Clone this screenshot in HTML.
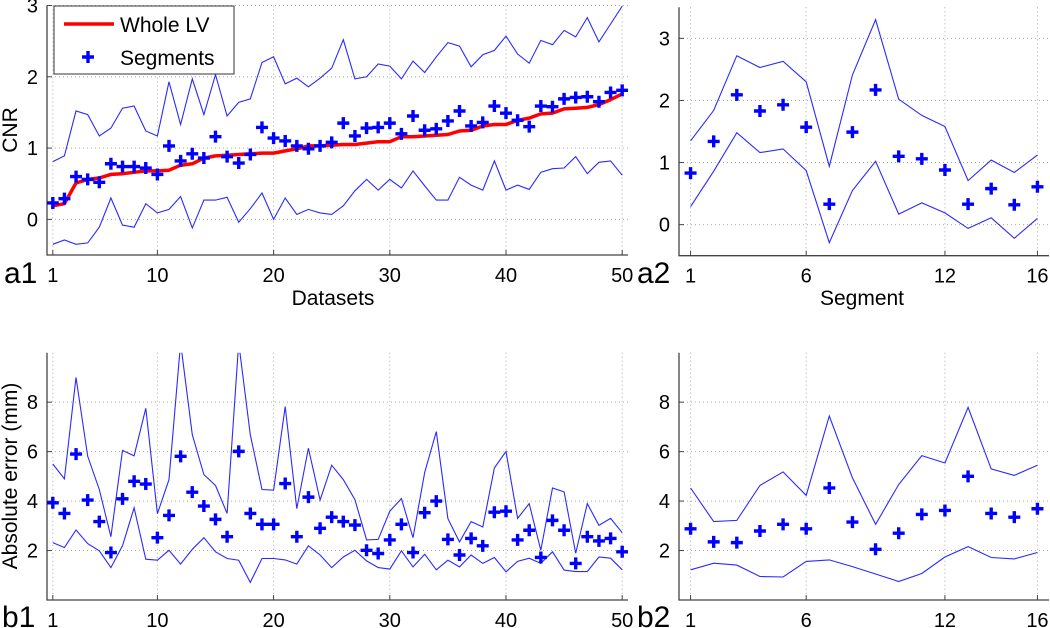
<!DOCTYPE html>
<html><head><meta charset="utf-8">
<style>
html,body{margin:0;padding:0;background:#fff;}
svg{display:block;font-family:"Liberation Sans",sans-serif;}
</style></head>
<body>
<svg id="fig" width="1050" height="628" viewBox="0 0 1050 628" xmlns="http://www.w3.org/2000/svg"></svg>
<script>
// ---- Data: panel a1 (CNR per dataset)
const a1Upper=[0.81,0.89,1.52,1.47,1.17,1.28,1.56,1.59,1.24,1.17,1.93,1.33,1.97,1.47,2.03,1.45,1.64,1.69,2.2,2.28,1.9,1.98,1.86,1.98,2.12,2.52,1.97,2.0,2.18,2.15,1.97,2.22,2.06,2.28,2.48,2.43,2.14,2.31,2.37,2.57,2.32,2.19,2.51,2.45,2.65,2.56,2.83,2.49,2.74,2.99];
const a1Lower=[-0.35,-0.29,-0.35,-0.33,-0.11,0.30,-0.08,-0.11,0.22,0.09,0.14,0.32,-0.12,0.27,0.27,0.31,-0.04,0.15,0.37,0.0,0.30,0.07,0.14,0.09,0.07,0.19,0.40,0.56,0.41,0.56,0.44,0.68,0.47,0.27,0.27,0.59,0.48,0.41,0.82,0.41,0.48,0.42,0.66,0.71,0.72,0.88,0.64,0.80,0.82,0.62];
const a1Seg=[0.23,0.29,0.60,0.56,0.52,0.78,0.74,0.74,0.72,0.63,1.03,0.82,0.92,0.86,1.16,0.88,0.79,0.91,1.29,1.14,1.10,1.03,0.99,1.03,1.08,1.35,1.17,1.28,1.29,1.35,1.20,1.45,1.25,1.27,1.38,1.52,1.31,1.36,1.59,1.49,1.39,1.30,1.59,1.58,1.69,1.71,1.72,1.65,1.78,1.81];
const a1Whole=[0.19,0.22,0.51,0.56,0.58,0.63,0.64,0.66,0.68,0.68,0.69,0.76,0.78,0.86,0.89,0.90,0.91,0.92,0.93,0.93,0.96,0.99,1.03,1.03,1.04,1.05,1.05,1.07,1.09,1.09,1.16,1.16,1.17,1.18,1.19,1.24,1.25,1.31,1.33,1.33,1.39,1.42,1.48,1.49,1.55,1.56,1.57,1.61,1.68,1.76];
// ---- panel a2 (CNR per segment)
const a2Upper=[1.35,1.84,2.72,2.53,2.63,2.30,0.94,2.41,3.30,2.02,1.76,1.58,0.71,1.04,0.84,1.12];
const a2Lower=[0.29,0.86,1.48,1.16,1.22,0.87,-0.29,0.55,1.02,0.17,0.35,0.19,-0.06,0.11,-0.22,0.10];
const a2Seg=[0.83,1.34,2.09,1.83,1.93,1.57,0.33,1.49,2.17,1.10,1.06,0.88,0.33,0.58,0.32,0.61];
// ---- panel b1 (absolute error per dataset)
const b1Upper=[5.50,4.90,9.0,5.81,4.47,2.56,6.05,5.83,7.75,3.49,4.87,10.4,6.68,5.07,4.63,3.50,10.4,6.68,4.47,4.44,7.82,3.69,6.14,4.04,5.45,4.87,4.06,2.43,2.45,3.59,4.10,2.52,5.16,6.81,3.29,2.35,3.17,2.95,5.34,6.01,3.30,3.90,2.01,4.53,4.37,1.89,3.90,3.02,3.30,2.72];
const b1Lower=[2.32,2.12,2.83,2.28,1.99,1.31,2.19,3.73,1.65,1.61,2.01,1.45,2.05,2.52,1.95,1.68,1.61,0.71,1.68,1.68,1.62,1.45,2.19,1.82,1.31,1.74,2.01,1.58,1.31,1.25,1.99,1.34,1.85,1.22,1.61,1.34,1.82,1.48,1.72,1.14,1.56,1.69,1.48,1.95,1.21,1.15,1.15,1.74,1.69,1.22];
const b1Seg=[3.93,3.50,5.90,4.04,3.17,1.92,4.09,4.80,4.69,2.52,3.42,5.81,4.36,3.80,3.26,2.56,6.01,3.50,3.06,3.06,4.71,2.56,4.16,2.90,3.35,3.17,3.03,2.01,1.88,2.43,3.06,1.92,3.53,4.00,2.45,1.82,2.49,2.19,3.55,3.59,2.43,2.82,1.72,3.22,2.82,1.48,2.56,2.39,2.49,1.95];
// ---- panel b2 (absolute error per segment)
const b2Upper=[4.53,3.17,3.22,4.63,5.18,4.23,7.44,4.94,3.06,4.67,5.84,5.54,7.79,5.30,5.04,5.45];
const b2Lower=[1.22,1.49,1.41,0.95,0.93,1.56,1.62,1.35,1.05,0.75,1.07,1.74,2.16,1.72,1.66,1.92];
const b2Seg=[2.88,2.35,2.32,2.79,3.06,2.88,4.53,3.15,2.05,2.70,3.46,3.62,5.00,3.50,3.35,3.69];
// ---- ticks
const xTicksDatasets=[1,10,20,30,40,50];
const xTicksSegments=[1,6,12,16];
const yTicksCNR=[0,1,2,3];
const yTicksErr=[2,4,6,8];

const NS="http://www.w3.org/2000/svg";
const svg=document.getElementById('fig');
function mk(tag,attrs,parent){const e=document.createElementNS(NS,tag);for(const k in attrs)e.setAttribute(k,attrs[k]);(parent||svg).appendChild(e);return e;}

function panel(id,box,xlim,ylim,xt,yt,upper,lower,seg,whole){
  const g=mk('g',{});
  
  
  const sx=v=>box.x0+(v-xlim[0])/(xlim[1]-xlim[0])*(box.x1-box.x0);
  const sy=v=>box.y1-(v-ylim[0])/(ylim[1]-ylim[0])*(box.y1-box.y0);
  const cid='clip-'+id;
  const cp=mk('clipPath',{id:cid},g);
  mk('rect',{x:box.x0,y:box.y0,width:box.x1-box.x0,height:box.y1-box.y0},cp);
  // grid
  const grid=mk('g',{stroke:'#aaa','stroke-width':1,'stroke-dasharray':'1,3'},g);
  
  
  xt.forEach(t=>{mk('line',{x1:sx(t),x2:sx(t),y1:box.y0,y2:box.y1},grid);});
  yt.forEach(t=>{mk('line',{x1:box.x0,x2:box.x1,y1:sy(t),y2:sy(t)},grid);});
  // axes
  const ax=mk('path',{d:`M${box.x0},${box.y0}V${box.y1}H${box.x1}`,fill:'none',stroke:'#444','stroke-width':1.3},g);
  
  
  xt.forEach(t=>{
    mk('line',{x1:sx(t),x2:sx(t),y1:box.y1,y2:box.y1-5,stroke:'#444'},g);
    const tx=mk('text',{x:sx(t),y:box.y1+27,'text-anchor':'middle','font-size':20,fill:'#000'},g);
    tx.textContent=t;
    
    
  });
  yt.forEach(t=>{
    mk('line',{x1:box.x0,x2:box.x0+5,y1:sy(t),y2:sy(t),stroke:'#444'},g);
    const tx=mk('text',{x:box.x0-9,y:sy(t)+7,'text-anchor':'end','font-size':20,fill:'#000'},g);
    tx.textContent=t;
    
    
  });
  const data=mk('g',{'clip-path':`url(#${cid})`},g);
  const pts=arr=>arr.map((v,i)=>sx(i+1).toFixed(1)+','+sy(v).toFixed(1)).join(' ');
  const up=mk('polyline',{points:pts(upper),fill:'none',stroke:'#2a2aff','stroke-width':1.1},data);
  
  
  const lo=mk('polyline',{points:pts(lower),fill:'none',stroke:'#2a2aff','stroke-width':1.1},data);
  
  
  if(whole){
    const w=mk('polyline',{points:pts(whole),fill:'none',stroke:'#ff0000','stroke-width':3.5,'stroke-linejoin':'round'},data);
    
    
  }
  seg.forEach((v,i)=>{
    const x=sx(i+1),y=sy(v);
    const p=mk('path',{d:`M${x-6},${y}H${x+6}M${x},${y-6}V${y+6}`,stroke:'#0000ff','stroke-width':3.4},data);
    
    
  });
}

panel('a1',{x0:47,x1:628,y0:5.5,y1:255},[0.5,50.5],[-0.5,3],xTicksDatasets,yTicksCNR,a1Upper,a1Lower,a1Seg,a1Whole);
panel('a2',{x0:679,x1:1049,y0:7.3,y1:255.7},[0.5,16.5],[-0.5,3.5],xTicksSegments,yTicksCNR,a2Upper,a2Lower,a2Seg,null);
panel('b1',{x0:47,x1:628,y0:352.7,y1:600},[0.5,50.5],[0,10],xTicksDatasets,yTicksErr,b1Upper,b1Lower,b1Seg,null);
panel('b2',{x0:679,x1:1049,y0:352.7,y1:600},[0.5,16.5],[0,10],xTicksSegments,yTicksErr,b2Upper,b2Lower,b2Seg,null);
</script>
<svg width="0" height="0" style="position:absolute"></svg>
<script>
// static labels & legend
(function(){
const svg=document.getElementById('fig');
const NS="http://www.w3.org/2000/svg";
function t(txt,attrs,name){const e=document.createElementNS(NS,'text');for(const k in attrs)e.setAttribute(k,attrs[k]);e.textContent=txt;svg.appendChild(e);


return e;}
t('CNR',{x:0,y:0,transform:'translate(17,130) rotate(-90)','text-anchor':'middle','font-size':21},'a1-y-axis-title');
t('Datasets',{x:333,y:305,'text-anchor':'middle','font-size':21},'a1-x-axis-title');
t('Segment',{x:862,y:305,'text-anchor':'middle','font-size':21},'a2-x-axis-title');
t('Absolute error (mm)',{x:0,y:0,transform:'translate(17,476) rotate(-90)','text-anchor':'middle','font-size':21},'b1-y-axis-title');
t('a1',{x:4,y:283,'font-size':30},'panel-label-a1');
t('a2',{x:637,y:283,'font-size':30},'panel-label-a2');
t('b1',{x:2,y:627,'font-size':30},'panel-label-b1');
t('b2',{x:637,y:627,'font-size':30},'panel-label-b2');
const lg=document.createElementNS(NS,'g');svg.appendChild(lg);


function m(tag,a){const e=document.createElementNS(NS,tag);for(const k in a)e.setAttribute(k,a[k]);lg.appendChild(e);return e;}
m('rect',{x:54,y:6,width:180,height:68,fill:'#fff',stroke:'#333','stroke-width':1});
const l1=m('line',{x1:64,x2:114,y1:24,y2:24,stroke:'#ff0000','stroke-width':3.5});


const tx1=m('text',{x:120,y:32,'font-size':21});tx1.textContent='Whole LV';


const p=m('path',{d:'M82,57H94M88,51V63',stroke:'#0000ff','stroke-width':3.4});


const tx2=m('text',{x:120,y:65,'font-size':21});tx2.textContent='Segments';


})();
</script>
</body></html>
